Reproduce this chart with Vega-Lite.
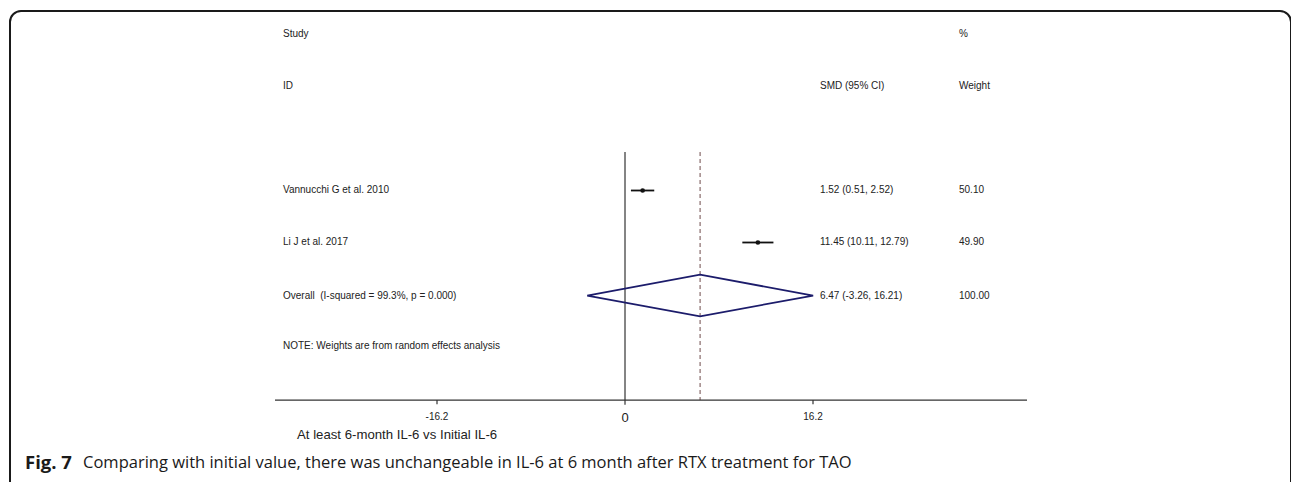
{
  "$schema": "https://vega.github.io/schema/vega-lite/v6.json",
  "autosize": "none",
  "padding": {"left": 10, "top": 11, "right": 0, "bottom": 0},
  "width": 1281,
  "height": 500,
  "background": "white",
  "config": {"view": {"stroke": "#1a1a1a", "strokeWidth": 2, "cornerRadius": 11}},
  "datasets": {
    "labels": [
      {"x": -29.47, "y": 0, "label": "Study"},
      {"x": 28.78, "y": 0, "label": "%"},
      {"x": -29.47, "y": 1, "label": "ID"},
      {"x": 16.8, "y": 1, "label": "SMD (95% CI)"},
      {"x": 28.78, "y": 1, "label": "Weight"},
      {"x": -29.47, "y": 3, "label": "Vannucchi G et al. 2010"},
      {"x": 16.8, "y": 3, "label": "1.52 (0.51, 2.52)"},
      {"x": 28.78, "y": 3, "label": "50.10"},
      {"x": -29.47, "y": 4, "label": "Li J et al. 2017"},
      {"x": 16.8, "y": 4, "label": "11.45 (10.11, 12.79)"},
      {"x": 28.78, "y": 4, "label": "49.90"},
      {"x": -29.47, "y": 5.02, "label": "Overall\u00a0\u00a0(I-squared = 99.3%, p = 0.000)"},
      {"x": 16.8, "y": 5.02, "label": "6.47 (-3.26, 16.21)"},
      {"x": 28.78, "y": 5.02, "label": "100.00"},
      {"x": -29.47, "y": 6, "label": "NOTE: Weights are from random effects analysis"}
    ],
    "studies": [
      {"study": "Vannucchi G et al. 2010", "row": 3, "smd": 1.52, "lo": 0.51, "hi": 2.52},
      {"study": "Li J et al. 2017", "row": 4, "smd": 11.45, "lo": 10.11, "hi": 12.79}
    ],
    "diamond": [
      {"ord": 0, "x": -3.26, "y": 5.02},
      {"ord": 1, "x": 6.47, "y": 4.62},
      {"ord": 2, "x": 16.21, "y": 5.02},
      {"ord": 3, "x": 6.47, "y": 5.42},
      {"ord": 4, "x": -3.26, "y": 5.02}
    ],
    "vrules": [
      {"x": 0, "y": 2.26, "y2": 7.12},
      {"x": -16.2, "y": 7.03, "y2": 7.11},
      {"x": 16.2, "y": 7.03, "y2": 7.11}
    ],
    "dashrule": [{"x": 6.47, "y": 2.26, "y2": 7.03}],
    "axisline": [{"x": -30.16, "x2": 34.64, "y": 7.03}],
    "ticklabels": [
      {"x": -16.2, "y": 7.35, "label": "-16.2"},
      {"x": 16.2, "y": 7.35, "label": "16.2"}
    ],
    "zerolabel": [{"x": 0, "y": 7.37, "label": "0"}],
    "axistitle": [{"x": -28.26, "y": 7.71, "label": "At least 6-month IL-6 vs Initial IL-6"}],
    "capbold": [{"x": -51.7, "y": 8.24, "label": "Fig. 7"}],
    "caprest": [{"x": -46.7, "y": 8.24, "label": "Comparing with initial value, there was unchangeable in IL-6 at 6 month after RTX treatment for TAO"}]
  },
  "layer": [
    {
      "data": {"name": "vrules"},
      "mark": {"type": "rule", "color": "#333333", "strokeWidth": 1.2},
      "encoding": {
        "x": {"field": "x", "type": "quantitative", "scale": {"domain": [-52.995, 57.389], "nice": false, "zero": false}, "axis": null},
        "y": {"field": "y", "type": "quantitative", "scale": {"domain": [-0.4519, 9.1635], "reverse": true, "nice": false, "zero": false}, "axis": null},
        "y2": {"field": "y2"}
      }
    },
    {
      "data": {"name": "dashrule"},
      "mark": {"type": "rule", "color": "#6e4a4a", "strokeWidth": 1, "strokeDash": [4, 3]},
      "encoding": {
        "x": {"field": "x", "type": "quantitative"},
        "y": {"field": "y", "type": "quantitative"},
        "y2": {"field": "y2"}
      }
    },
    {
      "data": {"name": "axisline"},
      "mark": {"type": "rule", "color": "#333333", "strokeWidth": 1.2},
      "encoding": {
        "x": {"field": "x", "type": "quantitative"},
        "x2": {"field": "x2"},
        "y": {"field": "y", "type": "quantitative"}
      }
    },
    {
      "data": {"name": "studies"},
      "mark": {"type": "rule", "color": "#111111", "strokeWidth": 1.8},
      "encoding": {
        "x": {"field": "lo", "type": "quantitative"},
        "x2": {"field": "hi"},
        "y": {"field": "row", "type": "quantitative"}
      }
    },
    {
      "data": {"name": "studies"},
      "mark": {"type": "point", "filled": true, "color": "#111111", "size": 22, "opacity": 1},
      "encoding": {
        "x": {"field": "smd", "type": "quantitative"},
        "y": {"field": "row", "type": "quantitative"}
      }
    },
    {
      "data": {"name": "diamond"},
      "mark": {"type": "line", "color": "#1c1c6b", "strokeWidth": 1.8},
      "encoding": {
        "x": {"field": "x", "type": "quantitative"},
        "y": {"field": "y", "type": "quantitative"},
        "order": {"field": "ord", "type": "quantitative"}
      }
    },
    {
      "data": {"name": "labels"},
      "mark": {"type": "text", "align": "left", "baseline": "middle", "font": "Liberation Sans", "fontSize": 10, "color": "#222222"},
      "encoding": {
        "x": {"field": "x", "type": "quantitative"},
        "y": {"field": "y", "type": "quantitative"},
        "text": {"field": "label"}
      }
    },
    {
      "data": {"name": "ticklabels"},
      "mark": {"type": "text", "align": "center", "baseline": "middle", "font": "Liberation Sans", "fontSize": 10, "color": "#222222"},
      "encoding": {
        "x": {"field": "x", "type": "quantitative"},
        "y": {"field": "y", "type": "quantitative"},
        "text": {"field": "label"}
      }
    },
    {
      "data": {"name": "zerolabel"},
      "mark": {"type": "text", "align": "center", "baseline": "middle", "font": "Liberation Sans", "fontSize": 13, "color": "#222222"},
      "encoding": {
        "x": {"field": "x", "type": "quantitative"},
        "y": {"field": "y", "type": "quantitative"},
        "text": {"field": "label"}
      }
    },
    {
      "data": {"name": "axistitle"},
      "mark": {"type": "text", "align": "left", "baseline": "middle", "font": "Liberation Sans", "fontSize": 13.2, "color": "#222222"},
      "encoding": {
        "x": {"field": "x", "type": "quantitative"},
        "y": {"field": "y", "type": "quantitative"},
        "text": {"field": "label"}
      }
    },
    {
      "data": {"name": "capbold"},
      "mark": {"type": "text", "align": "left", "baseline": "middle", "font": "Open Sans", "fontSize": 18.5, "fontWeight": "bold", "color": "#1a1a1a"},
      "encoding": {
        "x": {"field": "x", "type": "quantitative"},
        "y": {"field": "y", "type": "quantitative"},
        "text": {"field": "label"}
      }
    },
    {
      "data": {"name": "caprest"},
      "mark": {"type": "text", "align": "left", "baseline": "middle", "font": "Open Sans", "fontSize": 16.5, "color": "#1a1a1a"},
      "encoding": {
        "x": {"field": "x", "type": "quantitative"},
        "y": {"field": "y", "type": "quantitative"},
        "text": {"field": "label"}
      }
    }
  ]
}
